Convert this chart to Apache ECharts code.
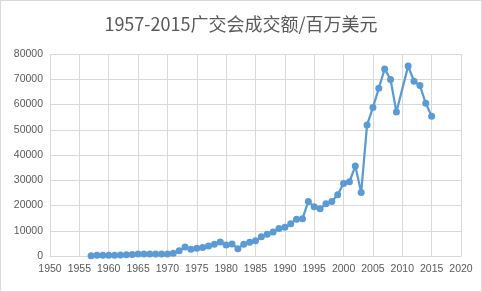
<!DOCTYPE html>
<html><head><meta charset="utf-8">
<script src="https://cdn.jsdelivr.net/npm/echarts@6/dist/echarts.min.js"></script>
<style>html,body{margin:0;padding:0;background:#fff}#c{width:482px;height:292px;box-sizing:border-box;border:1px solid #d9d9d9}</style>
</head><body><div id="c"></div>
<script>
const years = [1957,1958,1959,1960,1961,1962,1963,1964,1965,1966,1967,1968,1969,1970,1971,1972,1973,1974,1975,1976,1977,1978,1979,1980,1981,1982,1983,1984,1985,1986,1987,1988,1989,1990,1991,1992,1993,1994,1995,1996,1997,1998,1999,2000,2001,2002,2003,2004,2005,2006,2007,2008,2009,2011,2012,2013,2014,2015];
const values = [87,260,330,310,290,370,500,620,800,840,830,790,750,820,1100,2100,3600,2700,3100,3400,4000,4700,5500,4400,4800,2900,4700,5400,6000,7600,8600,9500,10900,11400,12800,14600,14800,21600,19500,18700,20700,21600,24300,28700,29400,35600,25100,51900,58800,66400,74100,69900,57000,75200,69200,67500,60500,55300];
const title = '1957-2015广交会成交额/百万美元';
const chart = echarts.init(document.getElementById('c'));
const axisLbl = {color:'#595959', fontSize:10.5, fontFamily:'Liberation Sans, Arial, sans-serif', formatter:v=>String(v)};
chart.setOption({
  animation:false,
  title:{text:title,left:'center',top:9,textStyle:{color:'#595959',fontSize:18,fontWeight:'normal',fontFamily:'Noto Sans CJK SC, sans-serif'}},
  grid:{left:49,right:20,top:53,bottom:35},
  xAxis:{type:'value',min:1950,max:2020,interval:5,
    axisLine:{show:true,lineStyle:{color:'#d9d9d9'}},axisTick:{show:false},
    splitLine:{show:true,lineStyle:{color:'#d9d9d9'}},
    axisLabel:Object.assign({margin:8},axisLbl)},
  yAxis:{type:'value',min:0,max:80000,interval:10000,
    axisLine:{show:false},axisTick:{show:false},
    splitLine:{show:true,lineStyle:{color:'#d9d9d9'}},
    axisLabel:Object.assign({margin:7},axisLbl)},
  series:[{type:'line',data:years.map((y,i)=>[y,values[i]]),
    symbol:'circle',symbolSize:7,
    lineStyle:{color:'#5B9BD5',width:2.25},
    itemStyle:{color:'#5B9BD5'}}]
});
</script></body></html>
